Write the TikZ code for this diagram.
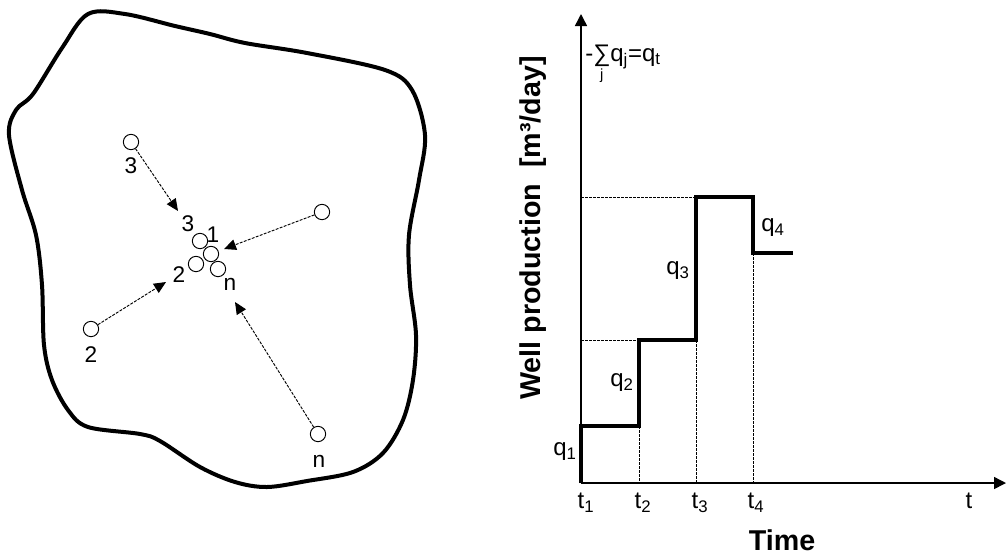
\documentclass[tikz,border=0pt]{standalone}
\usepackage{fontspec}
\setmainfont{Liberation Sans}
\usetikzlibrary{arrows.meta,positioning}

\tikzset{
  well/.style={circle,draw,line width=0.7pt,inner sep=0pt,minimum size=11.5pt},
  flow/.style={line width=0.7pt,dash pattern=on 2.2pt off 1pt,-{Triangle[length=9pt,width=8pt]}},
  guide/.style={line width=0.7pt,dash pattern=on 2pt off 1pt},
  prodline/.style={line width=3pt,line join=miter},
  axis/.style={line width=1.1pt,-{Triangle[length=9pt,width=9pt]}},
  lbl/.style={font=\fontsize{17}{20}\selectfont,inner sep=0pt},
  qlbl/.style={font=\fontsize{18}{21}\selectfont,inner sep=0pt},
  biglbl/.style={font=\bfseries\fontsize{21.5}{24}\selectfont,inner sep=0pt}
}

\begin{document}
\begin{tikzpicture}[x=0.75pt,y=-0.75pt]

\useasboundingbox (0,0) rectangle (1006,558);

%=================================================
% LEFT : RESERVOIR WITH WELLS
%=================================================

% Reservoir boundary

\draw[line width=3pt]
plot[smooth cycle,tension=0.55] coordinates {
(88,14) (125,14) (175,26) (210,34) (245,43) (307,53) (385,70)
(412,90) (425,135) (419,180) (409,235) (410,285) (416,335)
(413,380) (403,420) (383,453) (353,472) (307,481) (267,487)
(235,482) (200,467) (160,441) (140,434) (88,427) (68,410)
(52,380) (44,345) (42,285) (36,235) (22,190) (9,135)
(16,110) (33,94) (62,48)};

% Wells, original positions

\node[well] (w3) at (131,142) {};
\node[well] (w1) at (322,212) {};
\node[well] (w2) at (91,329) {};
\node[well] (wn) at (318,434) {};

\node[lbl] (w3lbl) at (131,166) {3};
\node[lbl] (w2lbl) at (91,355) {2};
\node[lbl] (wnlbl) at (319,461) {n};

% Wells, image positions

\node[well] (c3) at (200,241) {};
\node[well] (c1) at (211,254) {};
\node[well] (c2) at (196,264) {};
\node[well] (cn) at (218,269) {};

\node[lbl] (c3lbl) at (188,224) {3};
\node[lbl] (c1lbl) at (213,235) {1};
\node[lbl] (c2lbl) at (179,275) {2};
\node[lbl] (cnlbl) at (230,284) {n};

% Displacement

\coordinate (tip3) at (178,211);
\coordinate (tip1) at (224,249);
\coordinate (tip2) at (166,282);
\coordinate (tipn) at (235,302);

\foreach \w in {3,1,2,n}
{
\draw[flow] (w\w) -- (tip\w);
}

%=================================================
% RIGHT : PRODUCTION HISTORY
%=================================================

% Axes

\coordinate (O) at (581,483);
\coordinate (ytip) at (581,14);
\coordinate (xtip) at (1006,483);

\draw[axis] (O) -- (ytip);
\draw[axis] (O) -- (xtip);

% Guide lines

\draw[guide] (581,197) -- (696,197);
\draw[guide] (581,340) -- (639,340);

\foreach \x/\y in {639/426,696/340,753/253}
{
\draw[guide] (\x,\y) -- (\x,483);
}

% Well production

\draw[prodline]
(581,483) -- (581,426) -- (639,426) -- (639,340) -- (696,340)
-- (696,197) -- (753,197) -- (753,253) -- (793,253);

\node[qlbl] (q1) at (565,452) {q\textsubscript{1}};
\node[qlbl] (q2) at (622,383) {q\textsubscript{2}};
\node[qlbl] (q3) at (678,271) {q\textsubscript{3}};
\node[qlbl] (q4) at (773,228) {q\textsubscript{4}};

\node[qlbl,anchor=west] (qsum) at (585,64)
{-$\mathop{\mbox{∑}}\limits_{\mbox{\fontsize{11}{12}\selectfont j}}$q\textsubscript{j}=q\textsubscript{t}};

% Time marks

\foreach \x/\t in {586/1,643/2,700/3,756/4}
{
\node[qlbl] (t\t) at (\x,503) {t\textsubscript{\t}};
}
\node[qlbl] (tend) at (969,501) {t};

% Axis titles

\node[biglbl] (time) at (782,540) {Time};
\node[biglbl,rotate=90] (prod) at (533,228) {Well production\ \ [m³/day]};

\end{tikzpicture}
\end{document}
